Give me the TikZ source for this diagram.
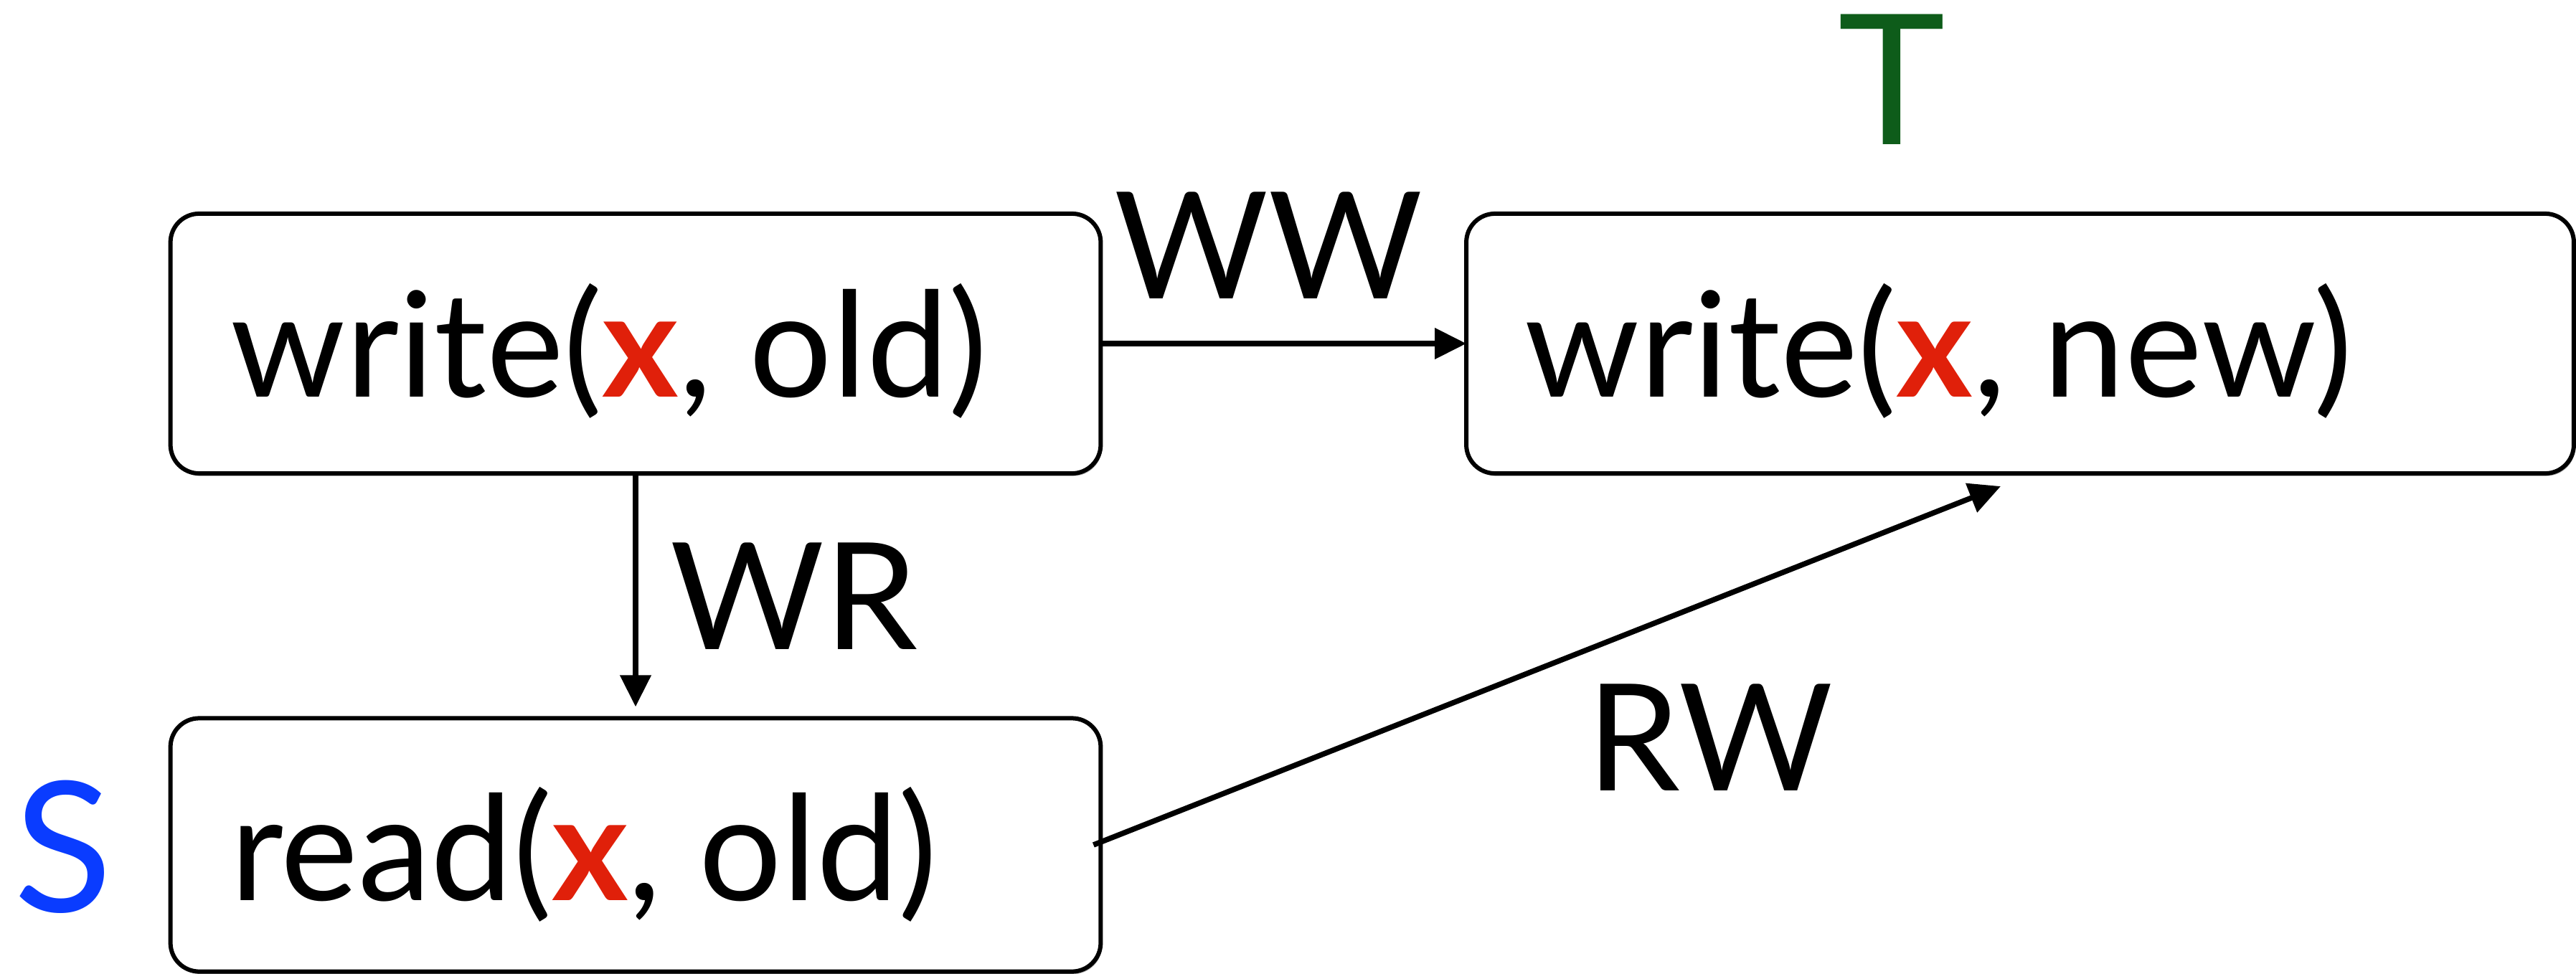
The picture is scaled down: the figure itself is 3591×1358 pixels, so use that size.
\documentclass[tikz,border=0pt]{standalone}
\usepackage{fontspec}
\setmainfont{Lato}
\usetikzlibrary{arrows.meta,shadows}
\definecolor{xred}{HTML}{E0200A}
\definecolor{sblue}{HTML}{0A3CFF}
\definecolor{tgreen}{HTML}{0E5C1A}
\newcommand\xvar{{\bfseries\color{xred}x}}
\begin{document}
\begin{tikzpicture}[x=0.01cm,y=-0.01cm,
  opbox/.style={draw=black, line width=0.06cm, rounded corners=0.4cm, fill=white,
    drop shadow={shadow xshift=0.02cm, shadow yshift=-0.035cm, fill=black, opacity=0.3},
    inner sep=0, outer sep=0},
  optext/.style={anchor=base west, inner sep=0, font=\fontsize{58}{60}\selectfont},
  deplabel/.style={anchor=base west, inner sep=0, font=\fontsize{59}{60}\selectfont},
  txname/.style={anchor=base, inner sep=0, font=\fontsize{72}{74}\selectfont},
  dep/.style={line width=0.075cm, -{Triangle[length=0.44cm,width=0.42cm]}}]
  \path[use as bounding box] (0,0) rectangle (3591,1358);

  % operation boxes
  \node[opbox, minimum width=12.96cm, minimum height=3.62cm] (b1) at (886,479) {};
  \node[opbox, minimum width=15.43cm, minimum height=3.62cm] (b2) at (2816,479) {};
  \node[opbox, minimum width=12.96cm, minimum height=3.53cm] (b3) at (886,1178) {};

  \node[optext] (t1) at (321,554) {write(\xvar, old)};
  \node[optext] (t2) at (2125,554) {write(\xvar, new)};
  \node[optext] (t3) at (321,1255) {read(\xvar, old)};

  % transaction names
  \node[txname, text=tgreen] (tT) at (2637,202) {T};
  \node[txname, text=sblue] (tS) at (88,1271) {S};

  % dependency edges
  \coordinate (rwtip) at (2789,678);
  \draw[dep] (b1.east) -- (b2.west);
  \draw[dep, shorten >=0.16cm] (b1.south) -- (b3.north);
  \draw[dep] ([xshift=-0.1cm]b3.east) -- (rwtip);

  \node[deplabel] (lww) at (1553,417) {WW};
  \node[deplabel] (lwr) at (934,905) {WR};
  \node[deplabel] (lrw) at (2212,1102) {RW};
\end{tikzpicture}
\end{document}
